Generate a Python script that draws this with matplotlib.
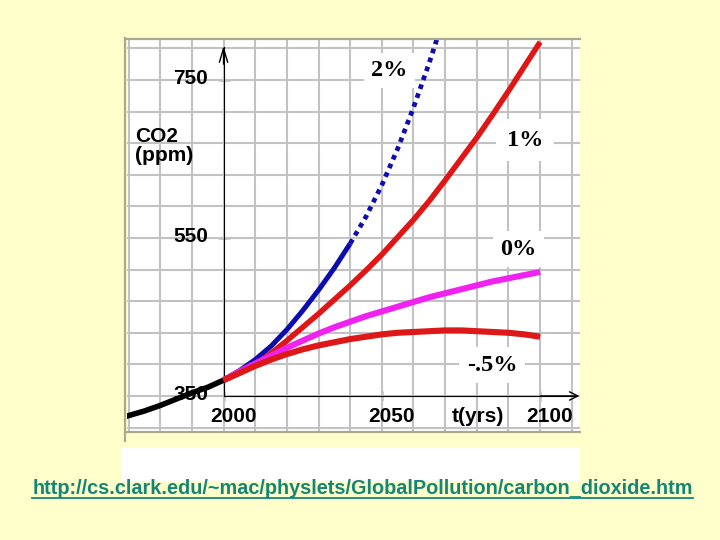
"""CO2 concentration scenarios (physlets Global Pollution), redrawn."""
import matplotlib

matplotlib.use("Agg")
import matplotlib.pyplot as plt
from matplotlib.lines import Line2D
from matplotlib.patches import Rectangle
from matplotlib.ticker import MultipleLocator

# historical record (black) and the four emission-growth scenarios, ppm
hist_years = [1969, 1975, 1980, 1985, 1990, 1995, 2000]
hist_ppm = [324, 331, 338, 346, 354, 361, 370]

years_2pct = [2000, 2005, 2010, 2015, 2020, 2025, 2030, 2035, 2040, 2045, 2050, 2055, 2060, 2065, 2070]
ppm_2pct = [370, 382, 396, 413, 434, 458, 484, 512, 543, 577, 617, 663, 715, 772, 834]

years_scen = [2000, 2005, 2010, 2015, 2020, 2025, 2030, 2035, 2040, 2045, 2050,
              2055, 2060, 2065, 2070, 2075, 2080, 2085, 2090, 2095, 2100]
ppm_1pct = [370, 379, 390, 404, 420, 437, 454, 472, 490, 509, 529,
            551, 573, 597, 623, 650, 677, 706, 736, 767, 798]
ppm_0pct = [370, 381, 391, 401, 411, 420, 429, 437, 444, 451, 457,
            463, 469, 475, 480, 485, 490, 495, 499, 503, 507]
ppm_m05pct = [370, 379, 388, 396, 403, 409, 414, 418, 422, 425, 428,
              430, 431, 432, 433, 433, 432, 431, 430, 428, 425]

x_ticks = [2000, 2050, 2100]
y_ticks = [350, 550, 750]

BG = "#ffffcc"
W, H = 720, 540


def fx(px):
    return px / W


def fy(py):
    return 1 - py / H


fig = plt.figure(figsize=(7.2, 5.4), dpi=100, facecolor=BG)

# white strip under the chart and the picture frame
fig.add_artist(Rectangle((fx(122), fy(481)), fx(580) - fx(122), fy(447) - fy(481),
                         transform=fig.transFigure, fc="white", ec="none", zorder=0))
frame = "#a9a98f"
for xs, ys in [((125, 125), (38, 441)), ((125, 580), (39, 39)), ((125, 580), (432, 432))]:
    fig.add_artist(Line2D([fx(v) for v in xs], [fy(v) for v in ys], color=frame, lw=1.6, zorder=5))

ax = fig.add_axes([fx(127), fy(432), fx(580) - fx(127), fy(40) - fy(432)])
ax.set_facecolor("white")
ax.set_xlim(1969.5, 2112.6)
ax.set_ylim(304.4, 800.6)

# grid every 10 years / 40 ppm
ax.xaxis.set_minor_locator(MultipleLocator(10))
ax.yaxis.set_minor_locator(MultipleLocator(40, offset=30))
ax.xaxis.remove_overlapping_locs = False
ax.yaxis.remove_overlapping_locs = False
ax.grid(which="minor", color="#c2c2c2", lw=1.5)
ax.grid(which="major", visible=False)
ax.set_axisbelow(True)

ax.set_xticks(x_ticks)
ax.set_yticks(y_ticks[1:])
ax.tick_params(which="minor", length=0)
ax.tick_params(which="major", direction="inout", length=7, width=1,
               labelbottom=False, labelleft=False)
ax.tick_params(axis="y", which="major", length=9)

for side in ("top", "right"):
    ax.spines[side].set_visible(False)
ax.spines["left"].set_position(("data", 2000))
ax.spines["left"].set_bounds(350, 792)
ax.spines["bottom"].set_position(("data", 350))
ax.spines["bottom"].set_bounds(2000, 2111)
ax.annotate("", xy=(2000, 793), xytext=(2000, 770),
            arrowprops=dict(arrowstyle="->,head_length=1.0,head_width=0.3", lw=1, color="k",
                            shrinkA=0, shrinkB=0))
ax.annotate("", xy=(2112.4, 350), xytext=(2100, 350),
            arrowprops=dict(arrowstyle="->,head_length=0.6,head_width=0.3", lw=1, color="k",
                            shrinkA=0, shrinkB=0))

# curves
ax.plot(hist_years, hist_ppm, color="black", lw=4, solid_capstyle="butt", zorder=3)
n_solid = years_2pct.index(2040) + 1
ax.plot(years_2pct[:n_solid], ppm_2pct[:n_solid], color="#0c0cb0", lw=3.6,
        solid_capstyle="butt", solid_joinstyle="round", zorder=3)
ax.plot(years_2pct[n_solid - 1:], ppm_2pct[n_solid - 1:], color="#0c0cb0", lw=3.4,
        linestyle=(0, (1.0, 1.0)), dash_capstyle="butt", zorder=3)
ax.plot(years_scen, ppm_1pct, color="#e01515", lw=4, solid_capstyle="butt",
        solid_joinstyle="round", zorder=4)
ax.plot(years_scen, ppm_0pct, color="#f022f0", lw=4.4, solid_capstyle="butt",
        solid_joinstyle="round", zorder=5)
ax.plot(years_scen, ppm_m05pct, color="#dc1818", lw=4.4, solid_capstyle="butt",
        solid_joinstyle="round", zorder=6)

# tick labels
sans = dict(family="Liberation Sans", fontweight="bold", fontsize=15, color="black")
for yr in x_ticks:
    ax.annotate(str(yr), xy=(yr, 350), xytext=(7, -19), textcoords="offset points",
                ha="center", va="baseline", zorder=7, **sans)
for val in y_ticks:
    ax.annotate(str(val), xy=(2000, val), xytext=(-11, -3), textcoords="offset points",
                ha="right", va="baseline", zorder=7, **sans)
ax.annotate("t(yrs)", xy=(2080.3, 350), xytext=(0, -19), textcoords="offset points",
            ha="center", va="baseline", zorder=7, **sans)
ax.text(1972.0, 672, "CO2", ha="left", va="baseline", zorder=7, **sans)
ax.text(1972.0, 647, "(ppm)", ha="left", va="baseline", zorder=7, **sans)

# scenario labels on white boxes
serif = dict(family="Liberation Serif", fontweight="bold", fontsize=17.5, color="black",
             ha="center", va="center", zorder=8)
box = dict(boxstyle="square,pad=0.3", fc="white", ec="none")
ax.text(2052.3, 762, "2%", bbox=box, **serif)
ax.text(2095.3, 674, "1%", bbox=dict(boxstyle="square,pad=0.45", fc="white", ec="none"), **serif)
ax.text(2093.2, 536, "0%", bbox=box, **serif)
ax.text(2084.8, 389, "-.5%", bbox=box, **serif)

# source link
url_color = "#138676"
url = fig.text(fx(362.5), fy(489), "http://cs.clark.edu/~mac/physlets/GlobalPollution/carbon_dioxide.htm",
               ha="center", va="center", color=url_color, family="Liberation Sans",
               fontweight="bold", fontsize=14.3)
fig.canvas.draw()
bb = url.get_window_extent()
fig.add_artist(Line2D([bb.x0 / W, bb.x1 / W], [fy(497.5)] * 2, color=url_color, lw=1.3))

fig.savefig("out.png", dpi=100, facecolor=BG)
